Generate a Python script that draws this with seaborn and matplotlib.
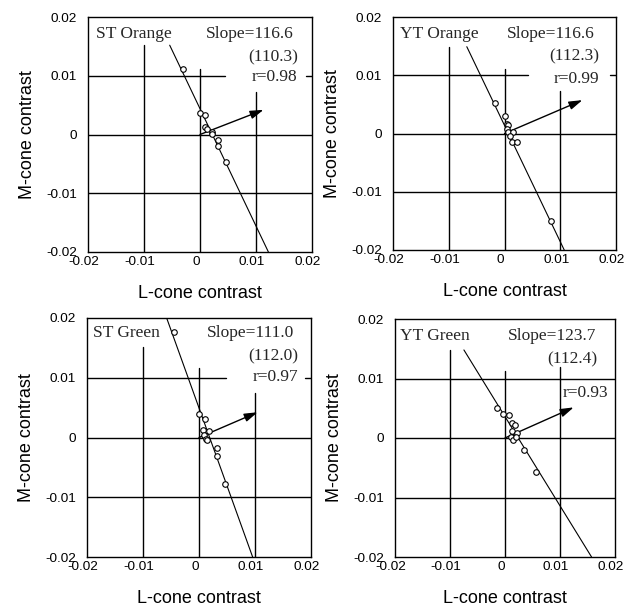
import numpy as np
import pandas as pd
import matplotlib
matplotlib.use("Agg")
import matplotlib.pyplot as plt
import matplotlib.transforms as mtransforms
import seaborn as sns

# ---------------- data ----------------
panels = ["ST Orange", "YT Orange", "ST Green", "YT Green"]

st_orange_L = [-0.0030, 0.0000, 0.0009, 0.0009, 0.0012, 0.0021, 0.0021, 0.0032, 0.0033, 0.0046]
st_orange_M = [0.0112, 0.0036, 0.0034, 0.0013, 0.0009, 0.0005, 0.0001, -0.0009, -0.0019, -0.0047]

yt_orange_L = [-0.0017, 0.0000, 0.0004, 0.0007, 0.0004, 0.0006, 0.0015, 0.0010, 0.0013, 0.0022, 0.0083]
yt_orange_M = [0.0053, 0.0030, 0.0016, 0.0014, 0.0007, 0.0003, 0.0002, -0.0004, -0.0014, -0.0014, -0.0151]

st_green_L = [-0.0045, 0.0000, 0.0010, 0.0007, 0.0018, 0.0009, 0.0012, 0.0014, 0.0032, 0.0033, 0.0046]
st_green_M = [0.0177, 0.0039, 0.0031, 0.0012, 0.0011, 0.0004, -0.0002, -0.0004, -0.0017, -0.0031, -0.0077]

yt_green_L = [-0.0015, -0.0003, 0.0007, 0.0012, 0.0019, 0.0013, 0.0022, 0.0011, 0.0015, 0.0020, 0.0035, 0.0056]
yt_green_M = [0.0050, 0.0040, 0.0038, 0.0026, 0.0022, 0.0011, 0.0008, 0.0001, -0.0004, 0.0001, -0.0021, -0.0057]

slopes = [116.6, 116.6, 111.0, 123.7]        # angle of fitted line (deg)
perp_angles = [110.3, 112.3, 112.0, 112.4]   # values in parentheses
r_values = [0.98, 0.99, 0.97, 0.93]
line_x0 = [0.0022, 0.0007, 0.0019, 0.0024]   # L where fitted line crosses M=0
line_top = [0.0152, 0.0149, 0.0200, 0.0148]  # M where fitted line starts
arrow_len = [0.0121, 0.0151, 0.0113, 0.0135]

ticks = [-0.02, -0.01, 0, 0.01, 0.02]
tick_labels = ["-0.02", "-0.01", "0", "0.01", "0.02"]

Ls = [st_orange_L, yt_orange_L, st_green_L, yt_green_L]
Ms = [st_orange_M, yt_orange_M, st_green_M, yt_green_M]

df = pd.concat([pd.DataFrame({"panel": p, "L": l, "M": m})
                for p, l, m in zip(panels, Ls, Ms)], ignore_index=True)

# ---------------- style ----------------
sns.set_theme(style="white")
plt.rcParams["font.family"] = ["Liberation Sans", "DejaVu Sans"]

W, H = 636, 610
fig = plt.figure(figsize=(W / 100, H / 100), dpi=100)

# axes rectangles in pixels: left, top, right, bottom
rects = [(88, 17, 312, 252), (393, 17, 616, 250), (87, 318, 311, 557), (395, 319, 615, 557)]

# partial grid lines (axes fractions): (hline y, xmin, xmax) and (vline x, ymin, ymax)
hgrid = [
    [(0.01, 0, 0.612), (0.01, 0.975, 1), (0, 0, 1), (-0.01, 0, 1)],
    [(0.01, 0, 0.606), (0.01, 0.975, 1), (0, 0, 1), (-0.01, 0, 1)],
    [(0.01, 0, 0.62), (0.01, 0.975, 1), (0, 0, 1), (-0.01, 0, 1)],
    [(0.01, 0, 1), (0, 0, 1), (-0.01, 0, 1)],
]
vgrid = [
    [(-0.01, 0, 0.88), (0, 0, 0.78), (0.01, 0, 0.68)],
    [(-0.01, 0, 0.872), (0, 0, 0.778), (0.01, 0, 0.683)],
    [(-0.01, 0, 0.88), (0, 0, 0.79), (0.01, 0, 0.685)],
    [(-0.01, 0, 0.87), (0, 0, 0.78), (0.01, 0, 0.80)],
]
# text positions (axes fractions)
name_pos = [(0.035, 0.929), (0.03, 0.929), (0.028, 0.937), (0.023, 0.927)]
slope_pos = [(0.918, 0.929), (0.906, 0.929), (0.923, 0.937), (0.917, 0.927)]
perp_pos = [(0.936, 0.830), (0.924, 0.829), (0.945, 0.839), (0.920, 0.829)]
r_pos = [(0.936, 0.745), (0.924, 0.736), (0.945, 0.755), (0.970, 0.688)]

serif = ["Liberation Serif", "DejaVu Serif"]
tfs = 12.5
xshift = mtransforms.ScaledTranslation(-4 / 100, 0, fig.dpi_scale_trans)

for i, panel in enumerate(panels):
    l, t, r, b = rects[i]
    ax = fig.add_axes([l / W, 1 - b / H, (r - l) / W, (b - t) / H])
    ax.set_xlim(-0.02, 0.02)
    ax.set_ylim(-0.02, 0.02)

    for y, x0, x1 in hgrid[i]:
        ax.axhline(y, x0, x1, color="black", lw=1.0, zorder=1)
    for x, y0, y1 in vgrid[i]:
        ax.axvline(x, y0, y1, color="black", lw=1.0, zorder=1)

    # fitted line
    tanv = np.tan(np.deg2rad(slopes[i]))
    ys = np.array([line_top[i], -0.02])
    xs = line_x0[i] + ys / tanv
    ax.plot(xs, ys, color="black", lw=0.8, zorder=2)

    # arrow
    ang = np.deg2rad(perp_angles[i] - 90)
    ax.annotate("", xy=(arrow_len[i] * np.cos(ang), arrow_len[i] * np.sin(ang)),
                xytext=(0, 0),
                arrowprops=dict(arrowstyle="-|>,head_length=0.8,head_width=0.25",
                                color="black", lw=1.0, mutation_scale=10,
                                shrinkA=0, shrinkB=0), zorder=4)

    sub = df[df["panel"] == panel]
    sns.scatterplot(data=sub, x="L", y="M", ax=ax, s=16, marker="o",
                    facecolor="white", edgecolor="black", linewidth=0.8,
                    zorder=5, legend=False)

    ax.text(*name_pos[i], panel, transform=ax.transAxes, ha="left", va="center",
            fontsize=tfs, family=serif, zorder=6)
    ax.text(*slope_pos[i], f"Slope={slopes[i]:.1f}", transform=ax.transAxes,
            ha="right", va="center", fontsize=tfs, family=serif, zorder=6)
    ax.text(*perp_pos[i], f"({perp_angles[i]:.1f})", transform=ax.transAxes,
            ha="right", va="center", fontsize=tfs, family=serif, zorder=6)
    ax.text(*r_pos[i], f"r={r_values[i]:.2f}", transform=ax.transAxes,
            ha="right", va="center", fontsize=tfs, family=serif, zorder=6)

    ax.set_xticks(ticks)
    ax.set_xticklabels(tick_labels)
    ax.set_yticks(ticks)
    ax.set_yticklabels(tick_labels)
    ax.tick_params(axis="both", length=0, labelsize=9.7, colors="black")
    ax.tick_params(axis="x", pad=3)
    ax.tick_params(axis="y", pad=8)
    for lab in ax.get_xticklabels():
        lab.set_transform(lab.get_transform() + xshift)
    for s in ax.spines.values():
        s.set_color("black")
        s.set_linewidth(1.0)
        s.set_visible(True)
    ax.set_xlabel("L-cone contrast", fontsize=13, labelpad=12, color="black")
    ax.set_ylabel("M-cone contrast", fontsize=13, labelpad=7, color="black")

fig.savefig("out.png", dpi=100, facecolor="white")
